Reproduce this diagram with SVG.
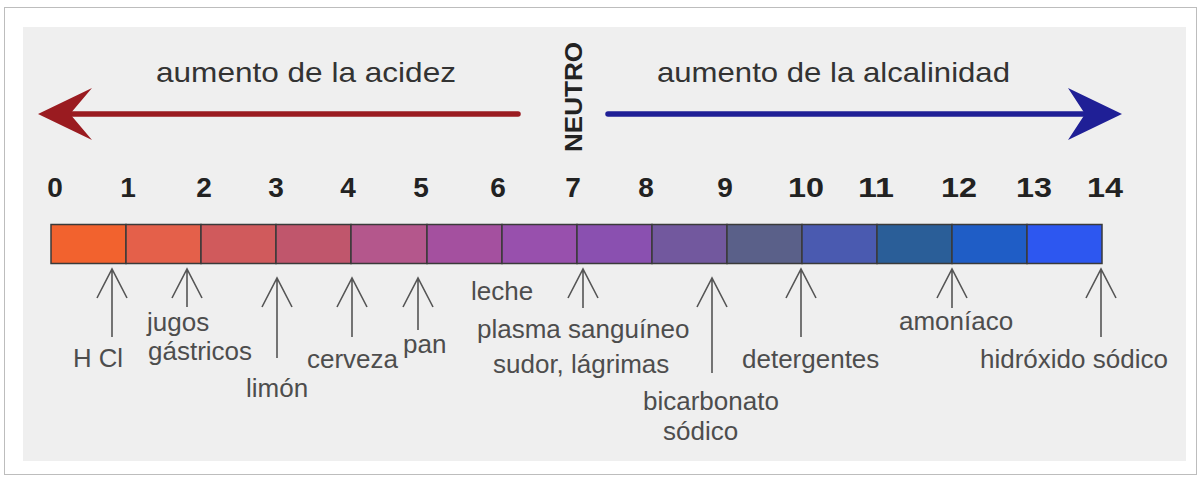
<svg xmlns="http://www.w3.org/2000/svg" width="1202" height="478" viewBox="0 0 1202 478">
<style>
.title{font-family:"Liberation Sans",Arial,sans-serif;font-size:28px;fill:#333}
.num{font-family:"Liberation Sans",Arial,sans-serif;font-size:28px;font-weight:bold;fill:#222;text-anchor:middle}
.lbl{font-family:"Liberation Sans",Arial,sans-serif;font-size:26px;fill:#4d4d4d}
.neutro{font-family:"Liberation Sans",Arial,sans-serif;font-size:24px;font-weight:bold;fill:#222;text-anchor:middle}
.seg{stroke:#3a3a3a;stroke-width:1.5}
.pt{fill:none;stroke:#555;stroke-width:1.6}
</style>
<rect x="0" y="0" width="1202" height="478" fill="#ffffff"/>
<rect x="4.5" y="7.5" width="1192" height="467" fill="#ffffff" stroke="#bdbdbd" stroke-width="1"/>
<rect x="23" y="27" width="1163" height="434" fill="#efefef"/>

<g id="acidez">
<line x1="518" y1="114" x2="70" y2="114" stroke="#9a1b20" stroke-width="5.5" stroke-linecap="round"/>
<polygon points="38,114 92,88 70,114 92,140" fill="#9a1b20"/>
<text class="title" x="156" y="82" textLength="300" lengthAdjust="spacingAndGlyphs">aumento de la acidez</text>
</g>
<g id="alcalinidad">
<line x1="608" y1="114" x2="1088" y2="114" stroke="#1f1f96" stroke-width="5.5" stroke-linecap="round"/>
<polygon points="1122,114 1068,88 1085,114 1068,140" fill="#1f1f96"/>
<text class="title" x="657" y="82" textLength="353" lengthAdjust="spacingAndGlyphs">aumento de la alcalinidad</text>
</g>
<g id="neutro">
<text class="neutro" transform="translate(582,97) rotate(-90)" textLength="110" lengthAdjust="spacingAndGlyphs">NEUTRO</text>
</g>

<g id="scale-numbers">
<text class="num" x="55" y="197">0</text>
<text class="num" x="128" y="197">1</text>
<text class="num" x="204" y="197">2</text>
<text class="num" x="276" y="197">3</text>
<text class="num" x="348" y="197">4</text>
<text class="num" x="421" y="197">5</text>
<text class="num" x="498" y="197">6</text>
<text class="num" x="573" y="197">7</text>
<text class="num" x="646" y="197">8</text>
<text class="num" x="725" y="197">9</text>
<text class="num" x="806" y="197" textLength="36" lengthAdjust="spacingAndGlyphs">10</text>
<text class="num" x="876" y="197" textLength="36" lengthAdjust="spacingAndGlyphs">11</text>
<text class="num" x="959" y="197" textLength="36" lengthAdjust="spacingAndGlyphs">12</text>
<text class="num" x="1034" y="197" textLength="36" lengthAdjust="spacingAndGlyphs">13</text>
<text class="num" x="1105" y="197" textLength="36" lengthAdjust="spacingAndGlyphs">14</text>
</g>

<g id="ph-bar">
<rect class="seg" x="51" y="224.5" width="75" height="39" fill="#f2622e"/>
<rect class="seg" x="126" y="224.5" width="75" height="39" fill="#e4604a"/>
<rect class="seg" x="201" y="224.5" width="75" height="39" fill="#d05a5c"/>
<rect class="seg" x="276" y="224.5" width="75" height="39" fill="#c0566c"/>
<rect class="seg" x="351" y="224.5" width="76" height="39" fill="#b4578c"/>
<rect class="seg" x="427" y="224.5" width="75" height="39" fill="#a4509f"/>
<rect class="seg" x="502" y="224.5" width="75" height="39" fill="#9850ad"/>
<rect class="seg" x="577" y="224.5" width="75" height="39" fill="#8a50b0"/>
<rect class="seg" x="652" y="224.5" width="75" height="39" fill="#72589e"/>
<rect class="seg" x="727" y="224.5" width="75" height="39" fill="#5a6089"/>
<rect class="seg" x="802" y="224.5" width="75" height="39" fill="#4a5ab0"/>
<rect class="seg" x="877" y="224.5" width="75" height="39" fill="#2a5e98"/>
<rect class="seg" x="952" y="224.5" width="75" height="39" fill="#1f5dc6"/>
<rect class="seg" x="1027" y="224.5" width="75" height="39" fill="#2d57f0"/>
</g>

<g id="connectors">
<path class="pt" d="M112,269 V337 M97,298 L112,269 L127,298"/>
<path class="pt" d="M187,269 V307 M172,298 L187,269 L202,298"/>
<path class="pt" d="M277,278 V358 M262,307 L277,278 L292,307"/>
<path class="pt" d="M352,278 V337 M337,307 L352,278 L367,307"/>
<path class="pt" d="M418,278 V330 M403,307 L418,278 L433,307"/>
<path class="pt" d="M583,269 V308 M568,298 L583,269 L598,298"/>
<path class="pt" d="M712,278 V373 M697,307 L712,278 L727,307"/>
<path class="pt" d="M801,269 V337 M786,298 L801,269 L816,298"/>
<path class="pt" d="M952,269 V308 M937,298 L952,269 L967,298"/>
<path class="pt" d="M1101,269 V337 M1086,298 L1101,269 L1116,298"/>
</g>

<g id="hcl"><text class="lbl" x="73" y="367" textLength="50" lengthAdjust="spacingAndGlyphs">H Cl</text></g>
<g id="jugos-gastricos">
<text class="lbl" x="147" y="331">jugos</text>
<text class="lbl" x="148" y="360">gástricos</text>
</g>
<g id="limon"><text class="lbl" x="246" y="397">limón</text></g>
<g id="cerveza"><text class="lbl" x="307" y="368">cerveza</text></g>
<g id="pan"><text class="lbl" x="403" y="353">pan</text></g>
<g id="leche-plasma-sudor">
<text class="lbl" x="471" y="300">leche</text>
<text class="lbl" x="477" y="338">plasma sanguíneo</text>
<text class="lbl" x="493" y="373">sudor, lágrimas</text>
</g>
<g id="bicarbonato">
<text class="lbl" x="643" y="410">bicarbonato</text>
<text class="lbl" x="663" y="440">sódico</text>
</g>
<g id="detergentes"><text class="lbl" x="742" y="368">detergentes</text></g>
<g id="amoniaco"><text class="lbl" x="899" y="330">amoníaco</text></g>
<g id="hidroxido"><text class="lbl" x="980" y="368">hidróxido sódico</text></g>
</svg>
